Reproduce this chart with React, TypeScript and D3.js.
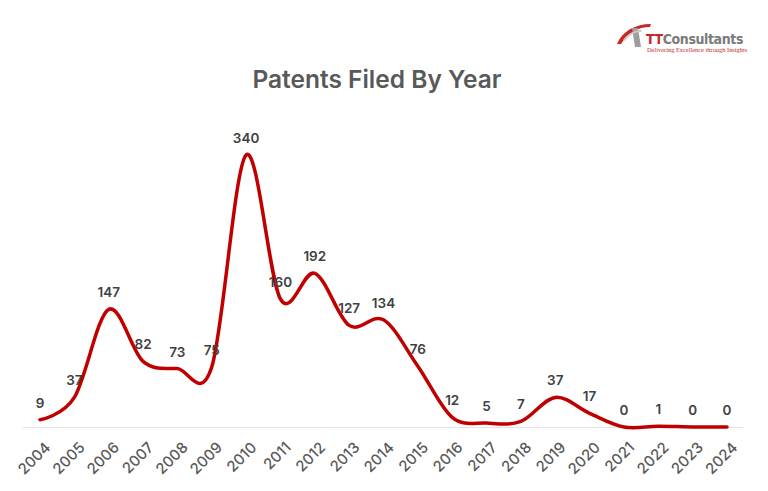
import React from "react";
import * as d3 from "d3";

const years = ["2004","2005","2006","2007","2008","2009","2010","2011","2012","2013","2014","2015","2016","2017","2018","2019","2020","2021","2022","2023","2024"];
const patents = [9,37,147,82,73,75,340,160,192,127,134,76,12,5,7,37,17,0,1,0,0];
const chartTitle = "Patents Filed By Year";

export default function App() {
  const W = 768, H = 491;
  const x = d3.scalePoint<string>().domain(years).range([40, 727]);
  const y = d3.scaleLinear().domain([0, 340]).range([427, 155]);
  const line = d3.line<number>()
    .x((_, i) => x(years[i]) as number)
    .y((d) => y(d))
    .curve(d3.curveCardinal.tension(0));
  const path = line(patents) || "";
  const font = "Inter, 'Open Sans', sans-serif";
  return (
    <svg width={W} height={H} style={{ position: "absolute", left: 0, top: 0, background: "#fff" }}>
      <rect x={0} y={0} width={W} height={H} fill="#fff" />
      {/* logo */}
      <g>
        <path d="M617,44 C622,32 634,24 651,24 L650,27 C638,27 628,33 621,44 Z" fill="#c62828" />
        <path d="M632,28 L638,28 L641,47 L635,47 Z" fill="#9e9e9e" />
        <path d="M623,40 C628,33 635,30 642,30 L641,32 C635,32 629,35 625,41 Z" fill="#c8c8c8" />
        <text x={646} y={44} fontFamily="'Liberation Sans Narrow', 'DejaVu Sans Condensed', Arial, sans-serif" fontWeight={700} fontSize={14} fill="#c62828" letterSpacing={-0.4}>
          TT<tspan fill="#7a7a7a">Consultants</tspan>
        </text>
        <text x={647} y={52} fontFamily="'Liberation Serif', serif" fontSize={6.4} fill="#c62828">Delivering Excellence through Insights</text>
      </g>
      <text x={377} y={88} textAnchor="middle" fontFamily={font} fontWeight={600} fontSize={24.5} fill="#595959">{chartTitle}</text>
      <line x1={23} x2={743} y1={427.5} y2={427.5} stroke="#e3e3e3" strokeWidth={1} />
      <path d={path} fill="none" stroke="#c00000" strokeWidth={3.5} strokeLinejoin="round" strokeLinecap="round" />
      {patents.map((v, i) => (
        <text key={"l" + i} x={(x(years[i]) as number)} y={y(v) - 12} textAnchor="middle" fontFamily={font} fontWeight={600} fontSize={13.5} fill="#404040">{v}</text>
      ))}
      {years.map((yr) => {
        const px = (x(yr) as number) + 4;
        return (
          <text key={yr} transform={`translate(${px},441) rotate(-45)`} textAnchor="end" dy="0.7em" fontFamily={font} fontWeight={500} fontSize={15} fill="#595959">{yr}</text>
        );
      })}
    </svg>
  );
}
